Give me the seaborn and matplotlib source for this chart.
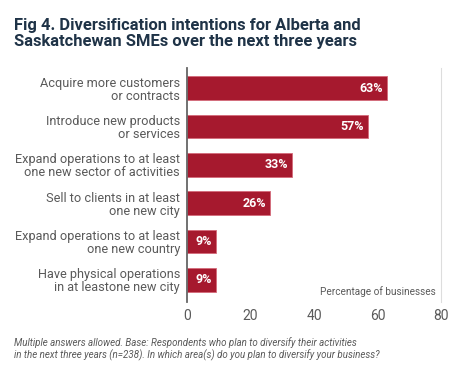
import matplotlib
matplotlib.use("Agg")
import matplotlib.pyplot as plt
import seaborn as sns
import pandas as pd

categories = [
    "Acquire more customers\nor contracts",
    "Introduce new products\nor services",
    "Expand operations to at least\none new sector of activities",
    "Sell to clients in at least\none new city",
    "Expand operations to at least\none new country",
    "Have physical operations\nin at leastone new city",
]
values = [63, 57, 33, 26, 9, 9]
xticks = [0, 20, 40, 60, 80]

bar_color = "#a6192e"
text_gray = "#5a5a5a"

sns.set_theme(style="white")
plt.rcParams["font.family"] = ["Roboto", "DejaVu Sans"]

df = pd.DataFrame({"category": categories, "value": values})

fig = plt.figure(figsize=(4.55, 3.74), dpi=100)
ax = fig.add_axes([0.411, 0.193, 0.558, 0.625])

sns.barplot(data=df, x="value", y="category", color=bar_color, saturation=1,
            width=0.62, ax=ax)
for p in ax.patches:
    p.set_edgecolor("#d46a7a")
    p.set_linewidth(0.6)

for i, v in enumerate(values):
    ax.text(v - 1.2, i, f"{v}%", color="white", fontweight="bold",
            fontsize=9, ha="right", va="center")

ax.set_xlim(0, 80)
ax.set_ylim(5.57, -0.52)
ax.set_xticks(xticks)
ax.set_xticklabels([str(t) for t in xticks])
ax.set_xlabel("")
ax.set_ylabel("")
ax.tick_params(axis="x", colors=text_gray, labelsize=10, length=0, pad=5)
ax.tick_params(axis="y", colors=text_gray, labelsize=9.15, length=0, pad=5)
for lbl in ax.get_yticklabels():
    lbl.set_linespacing(1.0)

for s in ["top", "bottom"]:
    ax.spines[s].set_visible(False)
ax.spines["left"].set_color("#666666")
ax.spines["left"].set_linewidth(1.3)
ax.spines["right"].set_color("#dddddd")
ax.spines["right"].set_linewidth(0.8)

ax.text(78.5, 5.45, "Percentage of businesses", color=text_gray, fontsize=7.2,
        ha="right", va="bottom")

fig.text(0.031, 0.952, "Fig 4. Diversification intentions for Alberta and\nSaskatchewan SMEs over the next three years",
         fontsize=11.9, fontweight="bold", color="#1f3347", ha="left", va="top",
         linespacing=1.1)

fig.text(0.031, 0.098, "Multiple answers allowed. Base: Respondents who plan to diversify their activities\nin the next three years (n=238). In which area(s) do you plan to diversify your business?",
         fontsize=7.0, style="italic", color=text_gray, ha="left", va="top",
         linespacing=1.15)

fig.savefig("out.png", dpi=100)
